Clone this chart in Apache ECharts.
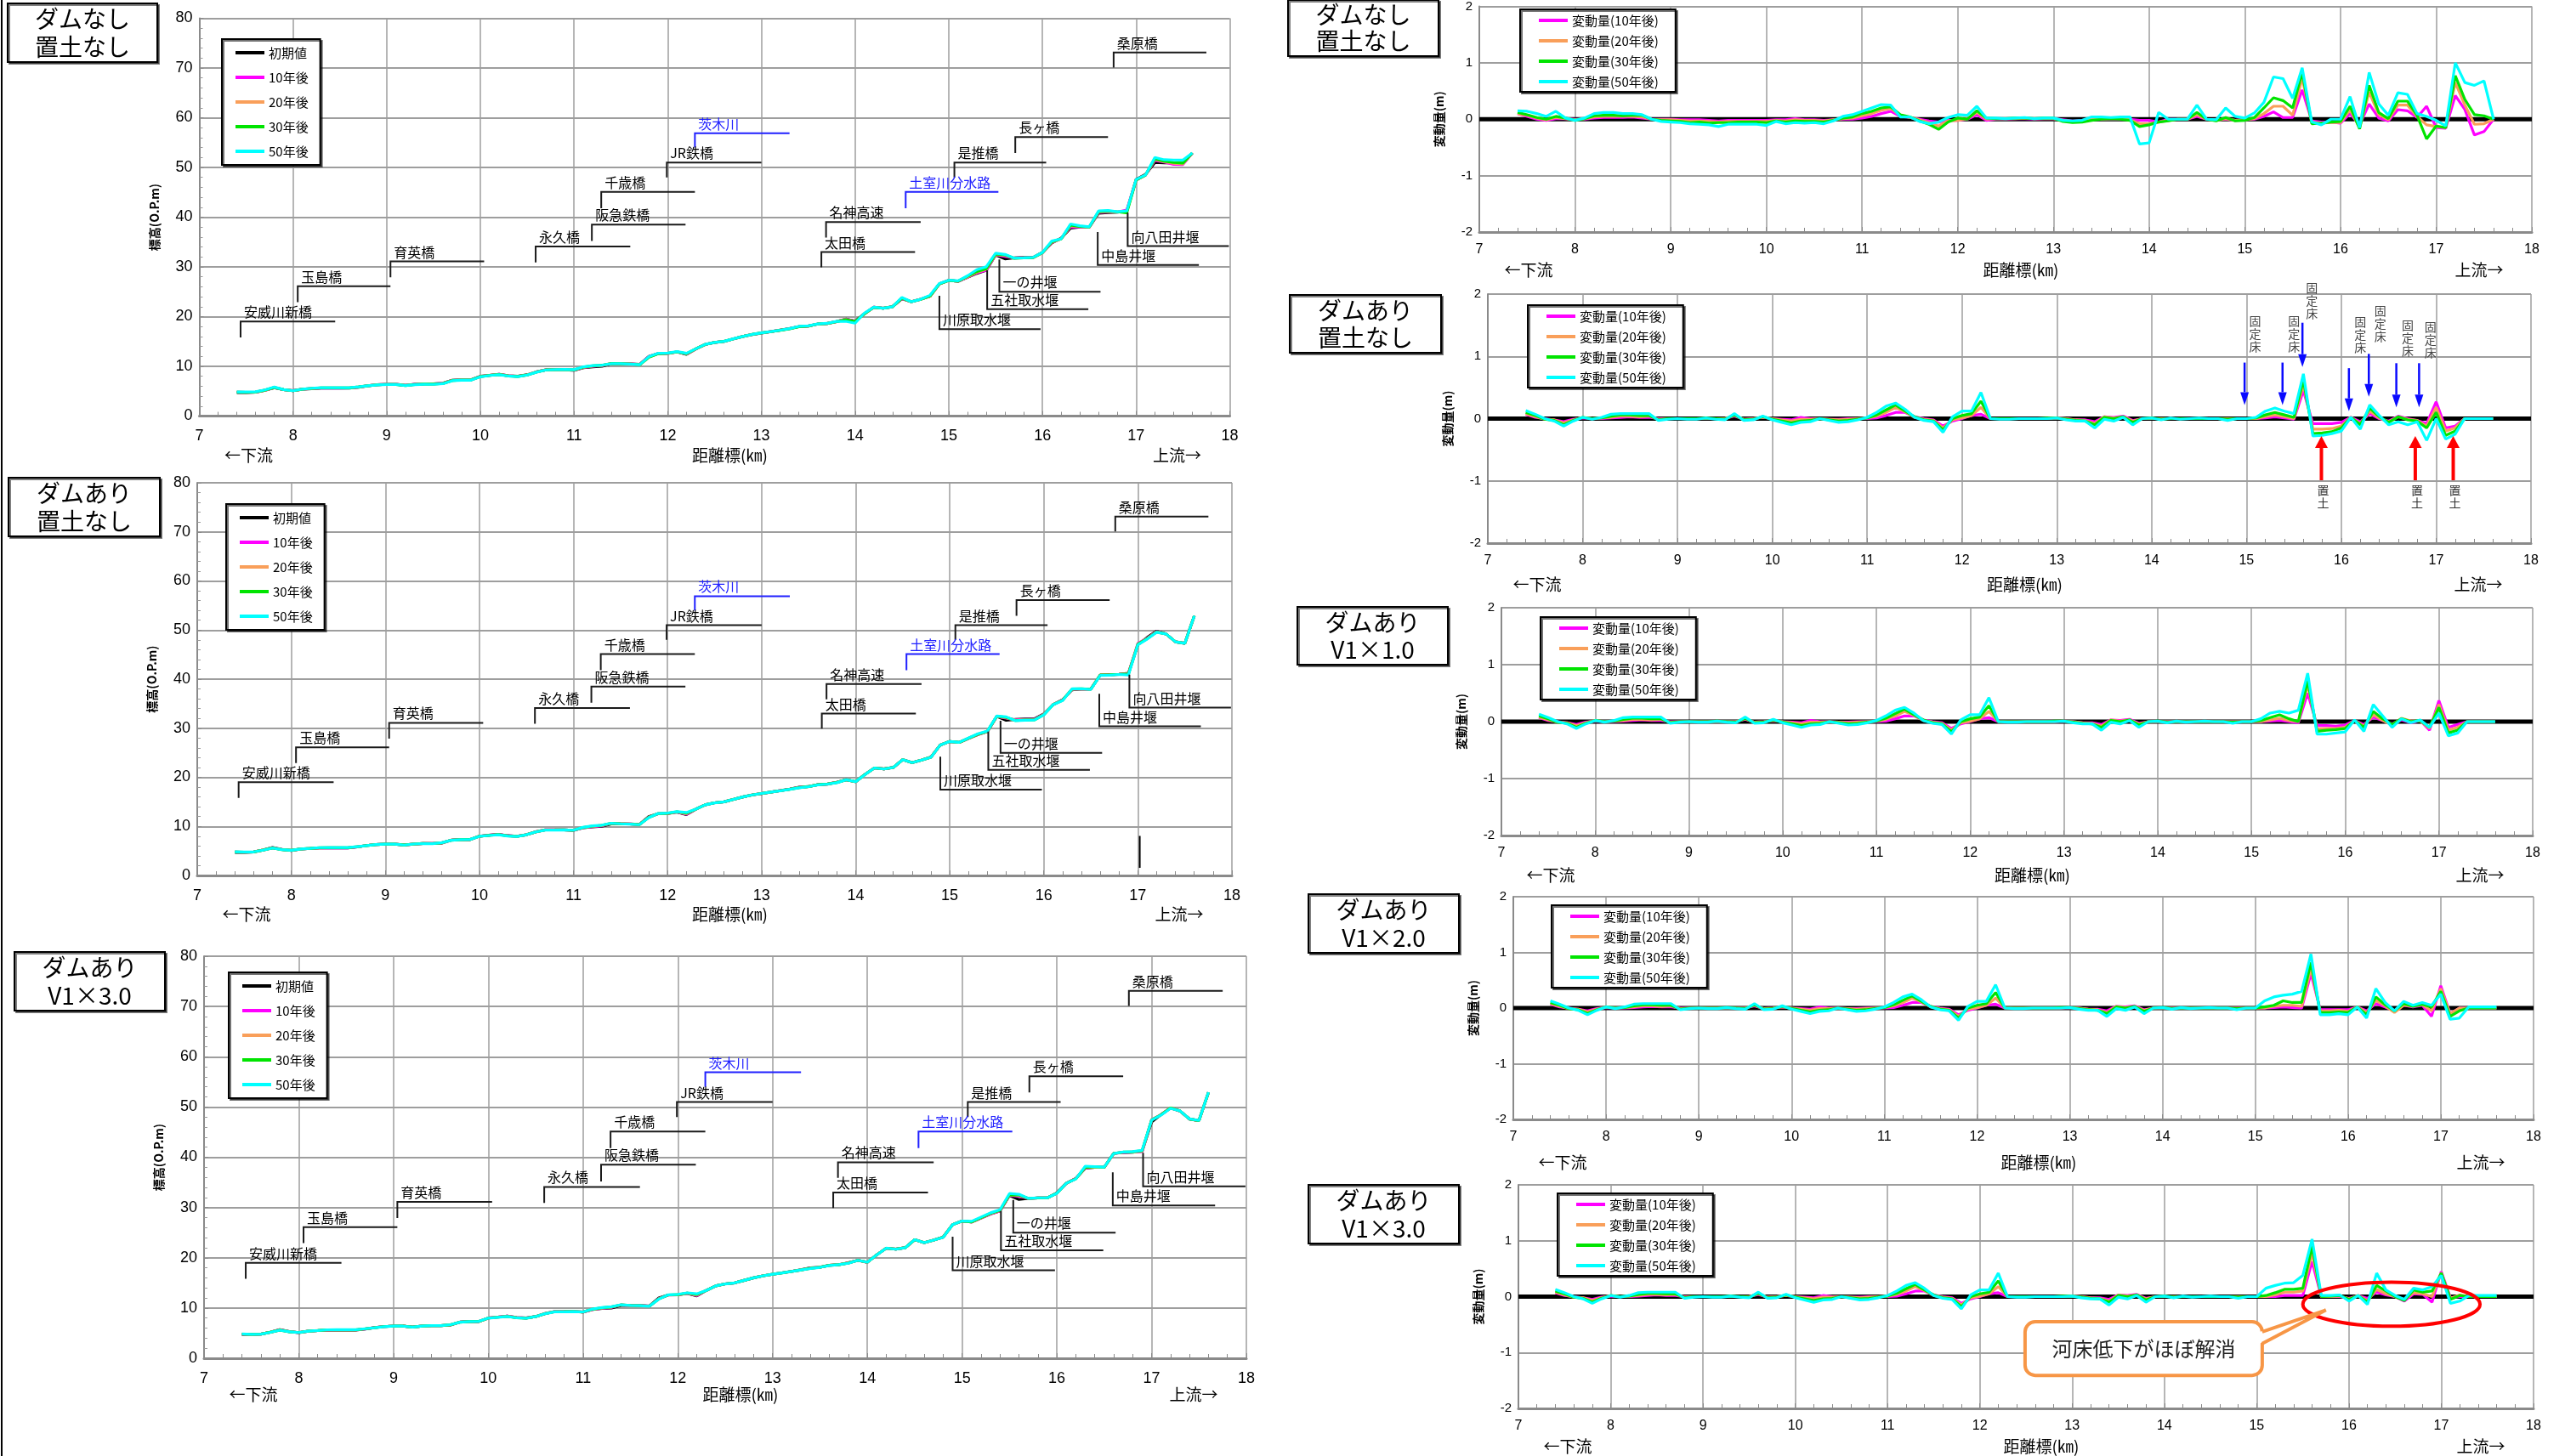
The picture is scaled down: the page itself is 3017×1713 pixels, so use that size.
<!DOCTYPE html>
<html><head><meta charset="utf-8">
<script src="https://cdn.jsdelivr.net/npm/echarts/dist/echarts.min.js"></script>
<style>html,body{margin:0;padding:0;background:#fff;}#c{width:3017px;height:1713px;}</style>
</head><body><div id="c"></div>
<script>
// ---------- DATA ----------
const km = [7.4,7.5,7.6,7.7,7.8,7.9,
 8.0,8.1,8.2,8.3,8.4,8.5,8.6,8.7,8.8,8.9,
 9.0,9.1,9.2,9.3,9.4,9.5,9.6,9.7,9.8,9.9,
 10.0,10.1,10.2,10.3,10.4,10.5,10.6,10.7,10.8,10.9,
 11.0,11.1,11.2,11.3,11.4,11.5,11.6,11.7,11.8,11.9,
 12.0,12.1,12.2,12.3,12.4,12.5,12.6,12.7,12.8,12.9,
 13.0,13.1,13.2,13.3,13.4,13.5,13.6,13.7,13.8,13.9,
 14.0,14.1,14.2,14.3,14.4,14.5,14.6,14.7,14.8,14.9,
 15.0,15.1,15.2,15.3,15.4,15.5,15.6,15.7,15.8,15.9,
 16.0,16.1,16.2,16.3,16.4,16.5,16.6,16.7,16.8,16.9,
 17.0,17.1,17.2,17.3,17.4,17.5,17.6];

// initial bed elevation (O.P.m), no dam
const initNoDam = [4.7,4.7,4.8,5.2,5.7,5.3,
 5.1,5.4,5.5,5.6,5.6,5.6,5.6,5.8,6.1,6.3,
 6.4,6.4,6.2,6.4,6.5,6.5,6.6,7.2,7.3,7.3,
 8.0,8.2,8.4,8.1,8.0,8.3,8.9,9.3,9.3,9.3,
 9.2,9.7,9.9,10.0,10.5,10.5,10.5,10.4,12.0,12.6,
 12.6,12.9,12.4,13.5,14.4,14.8,15.0,15.5,16.0,16.4,
 16.7,17.0,17.3,17.6,18.0,18.1,18.5,18.6,19.0,19.5,
 19.1,20.6,21.9,21.7,22.0,23.6,23.0,23.5,24.1,26.6,
 27.3,27.1,27.9,28.7,29.3,32.4,31.6,31.8,31.9,31.9,
 32.9,34.8,35.8,37.8,38.0,38.0,40.8,40.9,41.0,41.2,
 47.6,48.6,51.0,50.9,50.9,50.8,52.9];
// dam case: upstream end (17.0-17.6 km) differs
const initDamUpper = [47.0,48.5,49.8,49.2,47.6,47.3,52.9];
const initDam = initNoDam.slice(0, 96).concat(initDamUpper);

// change (m): dam-less, no soil placement
const noDam10 = [0.10,0.05,0.00,-0.02,0.01,0.01,
 0.00,0.00,0.02,0.03,0.03,0.03,0.04,0.02,0.00,0.00,
 0.00,-0.01,-0.01,-0.01,-0.02,-0.03,-0.02,-0.02,-0.02,-0.02,
 -0.02,-0.01,-0.01,0.01,-0.01,-0.01,-0.02,-0.01,0.00,0.00,
 0.02,0.05,0.10,0.14,0.05,0.03,0.00,-0.03,-0.05,-0.02,
 -0.02,0.00,0.08,-0.02,0.00,0.00,0.01,0.01,0.00,0.01,
 0.01,-0.01,-0.03,-0.02,0.00,0.00,0.00,0.00,0.00,-0.02,
 -0.02,-0.05,0.00,0.00,0.00,0.05,0.00,-0.01,0.00,-0.02,
 0.00,0.00,0.05,0.13,0.03,0.03,0.52,-0.03,-0.05,-0.05,
 -0.07,0.10,-0.10,0.27,0.02,-0.03,0.17,0.15,0.03,0.23,
 -0.15,-0.16,0.42,0.17,-0.28,-0.22,0.00];
const noDam20 = [0.10,0.07,0.02,-0.01,0.03,0.01,
 -0.01,0.01,0.04,0.05,0.05,0.05,0.05,0.04,0.00,-0.01,
 -0.01,-0.02,-0.03,-0.03,-0.04,-0.05,-0.04,-0.04,-0.04,-0.04,
 -0.04,-0.02,-0.03,-0.01,-0.02,-0.02,-0.03,-0.01,0.01,0.02,
 0.06,0.10,0.16,0.19,0.07,0.03,-0.01,-0.06,-0.12,-0.03,
 -0.02,0.01,0.12,0.00,0.01,0.01,0.01,0.02,0.01,0.01,
 0.01,-0.02,-0.04,-0.03,0.00,0.00,0.01,0.01,-0.01,-0.08,
 -0.08,-0.05,-0.02,0.00,0.00,0.08,0.00,-0.02,0.01,-0.02,
 -0.01,0.01,0.10,0.23,0.23,0.07,0.73,-0.05,-0.07,-0.06,
 -0.06,0.17,-0.15,0.48,0.08,-0.01,0.25,0.25,0.05,-0.10,
 -0.13,-0.15,0.65,0.25,-0.09,-0.08,0.00];
const noDam30 = [0.12,0.08,0.03,0.00,0.05,0.02,
 -0.02,0.01,0.06,0.07,0.07,0.06,0.07,0.07,0.00,-0.02,
 -0.03,-0.04,-0.06,-0.05,-0.07,-0.06,-0.06,-0.05,-0.05,-0.05,
 -0.06,-0.03,-0.05,-0.03,-0.04,-0.04,-0.05,-0.02,0.02,0.04,
 0.10,0.14,0.20,0.22,0.08,0.04,-0.03,-0.09,-0.18,-0.05,
 0.02,0.00,0.15,0.02,0.01,0.01,0.02,0.02,0.01,0.02,
 0.02,-0.04,-0.06,-0.05,-0.02,0.00,0.01,0.00,-0.02,-0.13,
 -0.10,-0.05,-0.03,0.00,0.00,0.12,0.00,-0.03,0.03,-0.03,
 -0.02,0.03,0.20,0.38,0.33,0.20,0.83,-0.08,-0.07,-0.05,
 -0.04,0.23,-0.17,0.60,0.12,0.01,0.32,0.32,0.07,-0.35,
 -0.12,-0.15,0.77,0.35,0.08,0.06,0.00];
const noDam50 = [0.15,0.14,0.10,0.05,0.14,0.02,
 -0.02,0.02,0.10,0.12,0.12,0.10,0.10,0.08,0.00,-0.04,
 -0.05,-0.06,-0.08,-0.09,-0.10,-0.13,-0.09,-0.09,-0.09,-0.09,
 -0.11,-0.04,-0.08,-0.06,-0.07,-0.06,-0.08,-0.03,0.05,0.08,
 0.14,0.20,0.26,0.25,0.04,0.04,-0.04,-0.08,-0.05,0.03,
 0.08,0.07,0.23,0.02,0.02,0.01,0.02,0.03,0.01,0.02,
 0.02,-0.02,-0.03,-0.02,0.04,0.04,0.03,0.04,0.04,-0.44,
 -0.42,0.12,0.00,0.00,0.00,0.25,0.00,-0.01,0.20,0.05,
 0.02,0.11,0.30,0.75,0.72,0.37,0.91,-0.05,-0.10,0.00,
 0.00,0.40,-0.15,0.83,0.27,0.07,0.47,0.44,0.10,0.05,
 -0.02,-0.12,1.00,0.65,0.60,0.68,0.00];

// change (m) with dam, 7.4-14.9 km (common to dam cases)
const damDown10 = [0.07,0.02,0.00,-0.02,-0.05,-0.01,
 0.01,0.00,0.00,0.01,0.02,0.03,0.02,0.02,0.00,0.00,
 0.00,0.00,0.00,0.00,0.00,0.00,0.04,-0.01,0.00,0.02,
 0.00,-0.01,-0.02,0.02,0.00,0.00,-0.01,-0.01,0.00,0.00,
 0.00,0.01,0.05,0.10,0.10,0.03,0.00,-0.02,-0.12,-0.04,
 0.00,0.05,0.07,0.00,0.00,0.00,0.00,0.00,0.00,0.00,
 0.01,0.00,-0.02,-0.02,-0.05,0.03,0.02,0.04,-0.03,0.00,
 0.00,0.00,0.00,0.00,0.00,0.00,0.00,0.00,0.00,0.00];
const damDown20 = [0.08,0.03,-0.01,-0.02,-0.07,-0.02,
 0.02,0.00,0.01,0.02,0.04,0.04,0.03,0.04,-0.01,0.00,
 0.00,0.00,0.00,0.00,0.00,0.00,0.05,-0.01,0.00,0.02,
 0.00,-0.02,-0.04,-0.01,-0.01,0.00,-0.01,-0.02,-0.01,0.00,
 0.01,0.04,0.10,0.18,0.11,0.02,-0.01,-0.03,-0.15,-0.02,
 0.01,0.05,0.18,0.00,0.00,0.00,0.00,0.00,0.00,0.00,
 0.01,0.00,-0.02,-0.03,-0.08,0.03,0.01,0.03,-0.04,0.00,
 0.00,0.00,0.00,0.00,0.00,0.00,0.00,0.00,0.00,0.00];
const damDown30 = [0.10,0.05,-0.01,-0.03,-0.10,-0.03,
 0.02,0.00,0.01,0.04,0.06,0.06,0.05,0.05,-0.02,0.00,
 0.00,0.00,0.00,0.01,0.00,-0.01,0.06,-0.02,-0.01,0.03,
 -0.01,-0.04,-0.07,-0.04,-0.03,0.00,-0.02,-0.04,-0.03,-0.01,
 0.01,0.06,0.14,0.22,0.12,0.03,-0.02,-0.04,-0.18,0.00,
 0.05,0.08,0.28,0.00,0.00,0.00,0.00,0.00,0.00,0.01,
 0.01,-0.01,-0.03,-0.04,-0.10,0.02,0.00,0.03,-0.06,0.00,
 0.01,-0.01,0.00,0.00,0.00,0.00,0.00,0.00,-0.01,0.00];
const damDown50 = [0.13,0.07,0.00,-0.04,-0.12,-0.04,
 0.02,-0.01,0.02,0.07,0.08,0.08,0.08,0.08,-0.03,-0.01,
 0.00,-0.01,-0.01,0.01,-0.01,-0.02,0.08,-0.03,-0.02,0.04,
 -0.02,-0.06,-0.10,-0.06,-0.05,0.00,-0.03,-0.06,-0.05,-0.02,
 0.02,0.10,0.20,0.25,0.15,0.02,-0.03,-0.05,-0.22,0.03,
 0.12,0.12,0.42,0.00,-0.01,-0.01,0.00,0.00,0.00,0.00,
 0.01,-0.02,-0.04,-0.04,-0.15,-0.01,-0.04,0.02,-0.10,0.00,
 0.01,-0.02,0.01,-0.01,0.00,0.01,0.00,0.00,-0.03,0.00];

// change (m) with dam, 15.0-17.6 km, per soil-placement case
const noSoilUp10 = [0,0.00,0.01,0.03,0.01,-0.01,0.45,-0.08,-0.08,-0.08, -0.06,0.02,-0.05,0.08,0.00,-0.04,0.04,0.00,-0.03,-0.08, 0.27,-0.15,-0.12,0,0,0,0];
const noSoilUp20 = [0,0.00,0.03,0.06,0.03,0.00,0.55,-0.17,-0.17,-0.16, -0.12,0.02,-0.08,0.12,0.01,-0.05,0.03,-0.01,-0.03,-0.12, 0.18,-0.20,-0.15,0,0,0,0];
const noSoilUp30 = [0,0.01,0.06,0.10,0.06,0.02,0.62,-0.24,-0.23,-0.21, -0.15,0.02,-0.10,0.17,0.03,-0.06,0.03,-0.02,-0.04,-0.15, 0.10,-0.27,-0.20,0,0,0,0];
const noSoilUp50 = [0,0.02,0.12,0.17,0.12,0.08,0.72,-0.28,-0.27,-0.24, -0.20,0.02,-0.17,0.22,0.05,-0.10,-0.05,-0.10,-0.05,-0.35, 0.00,-0.33,-0.25,0,0,0,0];

const v10Up10 = [0,0.00,0.01,0.02,0.00,-0.02,0.50,-0.07,-0.07,-0.08, -0.06,0.02,-0.05,0.08,0.02,-0.04,0.03,-0.02,0.02,-0.15, 0.37,-0.10,-0.05,0,0,0,0];
const v10Up20 = [0,0.00,0.03,0.06,0.02,0.00,0.65,-0.13,-0.12,-0.12, -0.10,0.02,-0.08,0.12,0.02,-0.06,0.06,0.01,0.01,-0.12, 0.30,-0.15,-0.10,0,0,0,0];
const v10Up30 = [0,0.02,0.07,0.12,0.05,0.00,0.72,-0.17,-0.15,-0.14, -0.12,0.02,-0.10,0.18,0.05,-0.05,0.05,0.00,0.02,-0.10, 0.25,-0.20,-0.15,0,0,0,0];
const v10Up50 = [0,0.05,0.15,0.18,0.15,0.20,0.85,-0.22,-0.22,-0.20, -0.18,0.03,-0.17,0.30,0.10,-0.10,0.05,-0.02,0.03,-0.10, 0.15,-0.25,-0.20,0,0,0,0];

const v20Up10 = [0,0.00,0.01,0.02,0.01,0.00,0.62,-0.03,-0.03,-0.03, -0.03,0.02,-0.05,0.08,0.02,-0.05,0.05,0.02,0.05,-0.15, 0.40,-0.10,0.00,0,0,0,0];
const v20Up20 = [0,0.00,0.03,0.05,0.05,0.03,0.72,-0.05,-0.05,-0.04, -0.06,0.02,-0.08,0.14,0.04,-0.08,0.05,0.03,0.06,-0.05, 0.35,-0.10,0.00,0,0,0,0];
const v20Up30 = [0,0.02,0.05,0.13,0.10,0.10,0.82,-0.08,-0.08,-0.07, -0.08,0.02,-0.12,0.20,0.06,-0.05,0.08,0.03,0.07,0.02, 0.30,-0.15,-0.05,0,0,0,0];
const v20Up50 = [0,0.13,0.20,0.23,0.25,0.30,0.97,-0.12,-0.12,-0.10, -0.12,0.02,-0.18,0.35,0.10,-0.05,0.12,0.05,0.10,0.05, 0.25,-0.20,-0.18,0.02,0.02,0.02,0.02];

const v30Up10 = [0,0.00,0.00,0.02,0.02,0.02,0.63,0.00,0.00,0.00, -0.03,0.02,-0.03,0.08,0.03,0.00,-0.08,0.05,0.04,-0.10, 0.45,-0.02,0.00,0,0,0,0];
const v30Up20 = [0,0.00,0.03,0.08,0.08,0.10,0.78,0.00,0.00,0.01, -0.04,0.02,-0.07,0.13,0.05,0.00,-0.05,0.07,0.05,0.00, 0.43,-0.03,0.03,0,0,0,0];
const v30Up30 = [0,0.02,0.07,0.13,0.13,0.15,0.90,0.00,0.01,0.02, -0.05,0.02,-0.10,0.20,0.10,0.00,-0.07,0.12,0.08,0.10, 0.42,-0.05,0.02,0,0,0,0];
const v30Up50 = [0,0.15,0.20,0.24,0.25,0.38,1.03,0.02,0.02,0.03, -0.08,0.02,-0.14,0.42,0.12,0.02,-0.05,0.15,0.12,0.18, 0.38,-0.12,-0.08,0.02,0.02,0.02,0.02];

// bridge / weir annotations: [label, km, start elev, level elev, end km, colour]
const bridges = [
 ['安威川新橋', 7.44, 15.8, 19.0, 8.45, 'k'],
 ['玉島橋', 8.05, 22.9, 26.1, 9.04, 'k'],
 ['育英橋', 9.04, 27.9, 31.1, 10.04, 'k'],
 ['永久橋', 10.59, 30.9, 34.1, 11.6, 'k'],
 ['阪急鉄橋', 11.19, 35.2, 38.5, 12.19, 'k'],
 ['千歳橋', 11.29, 41.8, 45.1, 12.29, 'k'],
 ['JR鉄橋', 11.99, 48.0, 51.0, 13.0, 'k'],
 ['茨木川', 12.29, 54.0, 56.9, 13.3, 'b'],
 ['名神高速', 13.69, 35.9, 39.0, 14.7, 'k'],
 ['太田橋', 13.64, 29.9, 33.0, 14.64, 'k'],
 ['土室川分水路', 14.54, 41.8, 45.1, 15.53, 'b'],
 ['是推橋', 15.06, 48.0, 51.0, 16.04, 'k'],
 ['長ヶ橋', 15.71, 52.9, 56.1, 16.7, 'k'],
 ['桑原橋', 16.76, 70.1, 73.1, 17.75, 'k'],
 ['川原取水堰', 14.9, 24.2, 17.5, 15.98, 'k'],
 ['五社取水堰', 15.41, 29.3, 21.5, 16.49, 'k'],
 ['一の井堰', 15.54, 31.5, 25.0, 16.62, 'k'],
 ['中島井堰', 16.59, 37.0, 30.4, 17.67, 'k'],
 ['向八田井堰', 16.91, 40.9, 34.2, 17.99, 'k']
];
const damMarker = [17.02, 1.55, 8.06];
// fixed beds: [label km, label top, arrow km, arrow from, arrow to]
const fixedBeds = [
 [15.09, 1.67, 14.98, 0.90, 0.22],
 [15.50, 1.67, 15.38, 0.90, 0.22],
 [15.69, 2.20, 15.59, 1.54, 0.83],
 [16.20, 1.65, 16.08, 0.81, 0.12],
 [16.41, 1.83, 16.29, 1.04, 0.35],
 [16.70, 1.60, 16.58, 0.89, 0.18],
 [16.94, 1.58, 16.82, 0.89, 0.18]
];
// soil placement: [km, arrow base, arrow tip, label top]
const soilPlace = [[15.79, -0.99, -0.28, -1.05],[16.78, -0.99, -0.28, -1.05],[17.18, -0.99, -0.28, -1.05]];
const ellipseNote = {cx:16.46, cy:-0.135, rx:0.96, ry:0.395};
const calloutNote = {x0:12.49, x1:15.06, y0:-0.45, y1:-1.41, tip:[15.75,-0.24], base:[-0.63,-0.84], text:'河床低下がほぼ解消'};

const elevNames = ['10年後','20年後','30年後','50年後'];
const chgNames = ['変動量(10年後)','変動量(20年後)','変動量(30年後)','変動量(50年後)'];

// ---------- BUILD ----------
const dNoDam = {m:noDam10, o:noDam20, g:noDam30, c:noDam50};
const dDamNoSoil = {m:damDown10.concat(noSoilUp10), o:damDown20.concat(noSoilUp20), g:damDown30.concat(noSoilUp30), c:damDown50.concat(noSoilUp50)};
const dV10 = {m:damDown10.concat(v10Up10), o:damDown20.concat(v10Up20), g:damDown30.concat(v10Up30), c:damDown50.concat(v10Up50)};
const dV20 = {m:damDown10.concat(v20Up10), o:damDown20.concat(v20Up20), g:damDown30.concat(v20Up30), c:damDown50.concat(v20Up50)};
const dV30 = {m:damDown10.concat(v30Up10), o:damDown20.concat(v30Up20), g:damDown30.concat(v30Up30), c:damDown50.concat(v30Up50)};

const FN = '"Liberation Sans Narrow","Liberation Sans",sans-serif';
const FJ = '"Noto Sans CJK JP","Noto Sans",sans-serif';
const SER = ['m','o','g','c'];
const COL = {m:'#ff00ff', o:'#f99f5a', g:'#00e400', c:'#00ffff'};

const P = [
 {k:'L', g:[234.5,21.5,1212,468], nameY:536, title:['ダムなし','置土なし'], tb:[9,4,176,69], lg:[261,46], base:initNoDam, d:dNoDam},
 {k:'L', g:[232,568,1217,462], nameY:1076, title:['ダムあり','置土なし'], tb:[10,562,178,69], lg:[266,593], base:initDam, d:dDamNoSoil},
 {k:'L', g:[240,1125,1226,473], nameY:1641, title:['ダムあり','V1×3.0'], tb:[17,1120,177,69], lg:[269,1144], base:initDam, d:dV30},
 {k:'R', g:[1740,0,1238,273], nameY:318, title:['ダムなし','置土なし'], tb:[1515,0,177,66], lg:[1788,11], d:dNoDam},
 {k:'R', g:[1750,346,1227,293], nameY:688, title:['ダムあり','置土なし'], tb:[1517,347,178,68], lg:[1797,359], d:dDamNoSoil},
 {k:'R', g:[1766,715,1213,268], nameY:1030, title:['ダムあり','V1×1.0'], tb:[1526,714,177,68], lg:[1812,726], d:dV10},
 {k:'R', g:[1780,1055,1200,262], nameY:1368, title:['ダムあり','V1×2.0'], tb:[1539,1052,177,69], lg:[1825,1065], d:dV20},
 {k:'R', g:[1786,1394,1194,263], nameY:1702, title:['ダムあり','V1×3.0'], tb:[1539,1394,177,69], lg:[1832,1404], d:dV30}
];

function lineSeries(name, i, vals, color, z){
  return {type:'line', name, xAxisIndex:i, yAxisIndex:i, data: km.map((k,n)=>[k, vals[n]]),
    showSymbol:false, symbol:'none', lineStyle:{width:3.2, color}, itemStyle:{color}, z, silent:true};
}

const grid=[], xAxis=[], yAxis=[], series=[], legend=[];
P.forEach((p,i)=>{
  const L = p.k==='L';
  grid.push({left:p.g[0], top:p.g[1], width:p.g[2], height:p.g[3]});
  xAxis.push({type:'value', gridIndex:i, min:7, max:18, interval:1,
    axisLine:{onZero:false, lineStyle:{color:'#8a8a8a', width:3}},
    axisTick:{show:true, inside:true, length:6, lineStyle:{color:'#8a8a8a', width:1}},
    minorTick:{show:true, splitNumber:5, length:5, lineStyle:{color:'#8a8a8a', width:1}},
    axisLabel:{color:'#000', fontFamily:FN, fontSize:L?18:16, margin:L?15:13},
    splitLine:{show:true, lineStyle:{color:'#9e9e9e', width:1.5}}});
  yAxis.push({type:'value', gridIndex:i, min:L?0:-2, max:L?80:2, interval:L?10:1,
    axisLine:{show:true, onZero:false, lineStyle:{color:'#8a8a8a', width:2}},
    axisTick:{show:L, inside:true, length:5, lineStyle:{color:'#8a8a8a'}},
    minorTick:{show:L, splitNumber:5, length:4, lineStyle:{color:'#9a9a9a'}},
    axisLabel:{color:'#000', fontFamily:FN, fontSize:L?18:15, margin:8},
    splitLine:{show:true, lineStyle:{color:'#9e9e9e', width:2}},
    name:L?'標高(O.P.m)':'変動量(m)', nameLocation:'middle', nameRotate:90, nameGap:L?46:40,
    nameTextStyle:{fontFamily:FJ, fontSize:14, fontWeight:'bold', color:'#000'}});
  if (L){
    series.push(lineSeries('初期値', i, p.base, '#000000', 2));
    SER.forEach((s,j)=>series.push(lineSeries(elevNames[j], i, p.base.map((b,n)=>Math.round((b+p.d[s][n])*100)/100), COL[s], 3+j)));
    legend.push({data:['初期値'].concat(elevNames), orient:'vertical', left:p.lg[0], top:p.lg[1],
      icon:'rect', itemWidth:34, itemHeight:4, itemGap:11, padding:[7,14,7,16],
      textStyle:{fontFamily:FJ, fontSize:15, lineHeight:18, color:'#000'},
      borderColor:'#000', borderWidth:2, backgroundColor:'#fff',
      shadowColor:'rgba(0,0,0,0.55)', shadowOffsetX:2, shadowOffsetY:2, shadowBlur:0, selectedMode:false});
  } else {
    SER.forEach((s,j)=>series.push(lineSeries(chgNames[j], i, p.d[s], COL[s], 3+j)));
    legend.push({data:chgNames, orient:'vertical', left:p.lg[0], top:p.lg[1],
      icon:'rect', itemWidth:34, itemHeight:4, itemGap:8, padding:[5,20,4,22],
      textStyle:{fontFamily:FJ, fontSize:15, lineHeight:16, color:'#000'},
      borderColor:'#000', borderWidth:2, backgroundColor:'#fff',
      shadowColor:'rgba(0,0,0,0.55)', shadowOffsetX:2, shadowOffsetY:2, shadowBlur:0, selectedMode:false});
  }
});

const chart = echarts.init(document.getElementById('c'), null, {renderer:'canvas', width:3017, height:1713});
chart.setOption({backgroundColor:'#ffffff', animation:false, grid, xAxis, yAxis, series, legend});

// ---------- ANNOTATIONS (positioned through the chart's own scales) ----------
const px = (i, x, y) => chart.convertToPixel({gridIndex:i}, [x, y]);
const G = [];
function txt(x, y, text, font, fill, align, valign, extra, z){
  G.push({type:'text', z:z||50, silent:true, style:Object.assign({text, x, y, font, fill,
    textAlign:align, textVerticalAlign:valign, align:align, verticalAlign:valign}, extra||{})});
}
function poly(points, stroke, w, z){ G.push({type:'polyline', z:z||40, silent:true, shape:{points}, style:{stroke, lineWidth:w, fill:null}}); }
function arrow(i, x, y0, y1, color, shaftW, headW, headL){
  const a = px(i, x, y0), b = px(i, x, y1);
  const dir = Math.sign(b[1]-a[1]);
  poly([a, [b[0], b[1]-dir*headL]], color, shaftW, 45);
  G.push({type:'polygon', z:45, silent:true, shape:{points:[[b[0]-headW/2, b[1]-dir*headL],[b[0]+headW/2, b[1]-dir*headL],[b[0], b[1]]]}, style:{fill:color}});
}

G.push({type:'line', z:60, silent:true, shape:{x1:2, y1:0, x2:2, y2:1713}, style:{stroke:'#000', lineWidth:2}});

P.forEach((p,i)=>{
  const L = p.k==='L';
  // title box
  const [bx,by,bw,bh] = p.tb;
  G.push({type:'rect', z:55, silent:true, shape:{x:bx, y:by, width:bw, height:bh},
    style:{fill:'#fff', stroke:'#000', lineWidth:2, shadowColor:'rgba(0,0,0,0.5)', shadowOffsetX:2, shadowOffsetY:2}});
  txt(bx+bw/2, by+bh*0.27, p.title[0], '28px '+FJ, '#000', 'center', 'middle', null, 70);
  txt(bx+bw/2, by+bh*0.74, p.title[1], '28px '+FJ, '#000', 'center', 'middle', null, 70);
  // bottom names
  const [gl,gt,gw,gh] = p.g;
  txt(gl+58, p.nameY, '←下流', '19px '+FJ, '#000', 'center', 'middle');
  txt(gl+gw/2+18, p.nameY, '距離標(㎞)', '19px '+FJ, '#000', 'center', 'middle');
  txt(gl+gw-62, p.nameY, '上流→', '19px '+FJ, '#000', 'center', 'middle');
  if (L){
    bridges.forEach(b=>{
      const col = b[5]==='b' ? '#2020ff' : '#1a1a1a';
      const p0 = px(i, b[1], b[2]), p1 = px(i, b[1], b[3]), p2 = px(i, b[4], b[3]);
      poly([p0, p1, p2], col, 2);
      txt(p1[0]+4, p1[1]-3, b[0], '16px '+FJ, b[5]==='b' ? '#2020ff' : '#000', 'left', 'bottom');
    });
    if (i === 1){
      poly([px(i, damMarker[0], damMarker[1]), px(i, damMarker[0], damMarker[2])], '#000', 2);
    }
  } else {
    // zero reference line under the series
    const z0 = px(i, 7, 0), z1 = px(i, 18, 0);
    G.push({type:'line', z:1, silent:true, shape:{x1:z0[0], y1:z0[1], x2:z1[0], y2:z1[1]}, style:{stroke:'#000', lineWidth:5}});
  }
});

// fixed bed / soil placement markers (ダムあり 置土なし)
fixedBeds.forEach(f=>{
  const t = px(4, f[0], f[1]);
  txt(t[0], t[1], '固\n定\n床', '14px '+FJ, '#444', 'center', 'top', {lineHeight:15});
  arrow(4, f[2], f[3], f[4], '#0a0aff', 2.5, 10, 15);
});
soilPlace.forEach(s=>{
  arrow(4, s[0], s[1], s[2], '#ff0000', 4, 15, 14);
  const t = px(4, s[0], s[3]);
  txt(t[0]+2, t[1], '置\n土', '14px '+FJ, '#333', 'center', 'top', {lineHeight:15});
});

// ellipse and callout (ダムあり V1×3.0)
{
  const c = px(7, ellipseNote.cx, ellipseNote.cy);
  const ex = px(7, ellipseNote.cx + ellipseNote.rx, ellipseNote.cy);
  const ey = px(7, ellipseNote.cx, ellipseNote.cy + ellipseNote.ry);
  G.push({type:'ellipse', z:46, silent:true, shape:{cx:c[0], cy:c[1], rx:ex[0]-c[0], ry:c[1]-ey[1]}, style:{stroke:'#ff0000', lineWidth:4, fill:null}});
  const a = px(7, calloutNote.x0, calloutNote.y0), b = px(7, calloutNote.x1, calloutNote.y1);
  G.push({type:'rect', z:47, silent:true, shape:{x:a[0], y:a[1], width:b[0]-a[0], height:b[1]-a[1], r:12}, style:{fill:'#fff', stroke:'#f79646', lineWidth:4}});
  const tip = px(7, calloutNote.tip[0], calloutNote.tip[1]);
  const b1 = px(7, calloutNote.x1, calloutNote.base[0]), b2 = px(7, calloutNote.x1, calloutNote.base[1]);
  G.push({type:'polygon', z:48, silent:true, shape:{points:[[b1[0]-3,b1[1]], tip, [b2[0]-3,b2[1]]]}, style:{fill:'#fff'}});
  poly([b1, tip, b2], '#f79646', 4, 49);
  txt((a[0]+b[0])/2, (a[1]+b[1])/2, calloutNote.text, '24px '+FJ, '#222', 'center', 'middle', null, 60);
}

chart.setOption({graphic: G});
</script></body></html>
